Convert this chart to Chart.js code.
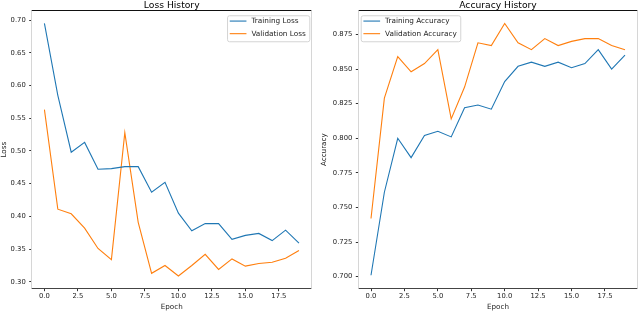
<!DOCTYPE html>
<html>
<head>
<meta charset="utf-8">
<script src="https://cdn.jsdelivr.net/npm/chart.js@4.4.1/dist/chart.umd.min.js"></script>
<style>
  html, body { margin: 0; padding: 0; background: #fff; }
  #wrap { position: relative; width: 640px; height: 312px; overflow: hidden; }
  canvas { position: absolute; top: 0; }
</style>
</head>
<body>
<div id="wrap">
  <canvas id="lossChart" width="320" height="312" style="left:0px"></canvas>
  <canvas id="accChart" width="320" height="312" style="left:320px"></canvas>
</div>
<script>
var epochs = [0, 1, 2, 3, 4, 5, 6, 7, 8, 9, 10, 11, 12, 13, 14, 15, 16, 17, 18, 19];

var trainLoss = [0.695, 0.585, 0.498, 0.513, 0.472, 0.473, 0.476, 0.476, 0.437, 0.452,
                 0.405, 0.378, 0.389, 0.389, 0.365, 0.371, 0.374, 0.363, 0.379, 0.359];
var valLoss   = [0.563, 0.411, 0.404, 0.382, 0.351, 0.334, 0.528, 0.391, 0.313, 0.325,
                 0.309, 0.325, 0.342, 0.319, 0.335, 0.324, 0.328, 0.330, 0.336, 0.348];
var trainAcc  = [0.701, 0.761, 0.800, 0.786, 0.802, 0.805, 0.801, 0.822, 0.824, 0.821,
                 0.841, 0.852, 0.855, 0.852, 0.855, 0.851, 0.854, 0.864, 0.850, 0.860];
var valAcc    = [0.742, 0.829, 0.859, 0.848, 0.854, 0.864, 0.814, 0.837, 0.869, 0.867,
                 0.883, 0.869, 0.864, 0.872, 0.867, 0.870, 0.872, 0.872, 0.867, 0.864];

var epochTicks = [0, 2.5, 5, 7.5, 10, 12.5, 15, 17.5];
var lossTicks  = [0.30, 0.35, 0.40, 0.45, 0.50, 0.55, 0.60, 0.65, 0.70];
var accTicks   = [0.700, 0.725, 0.750, 0.775, 0.800, 0.825, 0.850, 0.875];

var BLUE = '#1f77b4', ORANGE = '#ff7f0e';
var FONT = "'DejaVu Sans', sans-serif";

// spines drawn over the lines, like matplotlib
var framePlugin = {
  id: 'frame',
  afterDatasetsDraw: function(chart) {
    var a = chart.chartArea, c = chart.ctx;
    var t = Math.floor(a.top) + 0.5, b = Math.floor(a.bottom) + 0.5;
    var l = Math.floor(a.left) + 0.5, r = Math.floor(a.right) + 0.5;
    c.save();
    c.lineWidth = 1;
    function seg(x1, y1, x2, y2, col) {
      c.strokeStyle = col; c.beginPath(); c.moveTo(x1, y1); c.lineTo(x2, y2); c.stroke();
    }
    seg(l, t, r, t, '#111');
    seg(l, b, r, b, '#444');
    seg(l, t, l, b, '#d6d6d6');
    seg(r, t, r, b, '#d6d6d6');
    c.restore();
  }
};

// legend box inside the axes
var boxLegendPlugin = {
  id: 'boxLegend',
  afterDraw: function(chart, args, opts) {
    var a = chart.chartArea, c = chart.ctx;
    var sets = chart.data.datasets;
    c.save();
    c.font = '7.3px ' + FONT;
    var tw = 0;
    sets.forEach(function(d) { tw = Math.max(tw, c.measureText(d.label).width); });
    var w = 2.7 + 16.7 + 5 + tw + 3.5, h = 26;
    var x = opts.side === 'right' ? a.right - 2.4 - w : a.left + 2.4;
    var y = a.top + 4.6;
    c.fillStyle = 'rgba(255,255,255,0.85)';
    c.strokeStyle = '#d4d4d4';
    c.lineWidth = 1;
    c.beginPath();
    c.roundRect(x + 0.5, y + 0.5, w, h, 2);
    c.fill(); c.stroke();
    sets.forEach(function(d, i) {
      var ry = y + 5.8 + i * 12.6;
      c.strokeStyle = d.borderColor;
      c.lineWidth = 1.1;
      c.beginPath(); c.moveTo(x + 2.7, ry); c.lineTo(x + 19.4, ry); c.stroke();
      c.fillStyle = '#222';
      c.textBaseline = 'middle';
      c.textAlign = 'left';
      c.fillText(d.label, x + 24.4, ry);
    });
    c.restore();
  }
};

function buildChart(id, o) {
  return new Chart(document.getElementById(id), {
    type: 'line',
    data: {
      datasets: o.series.map(function(s) {
        return {
          label: s.label,
          data: epochs.map(function(e, i) { return { x: e, y: s.values[i] }; }),
          borderColor: s.color, backgroundColor: s.color,
          borderWidth: 1.1, pointRadius: 0, tension: 0, fill: false
        };
      })
    },
    options: {
      responsive: false, animation: false, devicePixelRatio: 1,
      layout: { padding: { left: 0, right: o.padRight, top: 0, bottom: 0 } },
      plugins: {
        legend: { display: false },
        tooltip: { enabled: false },
        title: {
          display: true, text: o.title, fullSize: false, color: '#000',
          font: { family: FONT, size: 9.2, weight: 'normal', lineHeight: 1.16 }, padding: 0
        },
        boxLegend: { side: o.legendSide }
      },
      scales: {
        x: {
          type: 'linear', min: -0.95, max: 19.95,
          afterBuildTicks: function(s) { s.ticks = epochTicks.map(function(v) { return { value: v }; }); },
          afterFit: function(s) { s.height = 23.3; },
          ticks: {
            callback: function(v) { return v.toFixed(1); },
            color: '#222', font: { family: FONT, size: 6.8 }, padding: 1, maxRotation: 0, autoSkip: false
          },
          grid: { drawOnChartArea: false, drawTicks: true, tickLength: 2.5, color: '#333' },
          border: { display: false },
          title: { display: true, text: 'Epoch', color: '#222', font: { family: FONT, size: 7.2 }, padding: { top: 0, bottom: 1 } }
        },
        y: {
          type: 'linear', min: o.yMin, max: o.yMax,
          afterBuildTicks: function(s) { s.ticks = o.yTicks.map(function(v) { return { value: v }; }); },
          afterFit: function(s) { s.width = o.yWidth; },
          ticks: {
            callback: function(v) { return v.toFixed(o.digits); },
            color: '#222', font: { family: FONT, size: 6.8 }, padding: 3.5, autoSkip: false
          },
          grid: { drawOnChartArea: false, drawTicks: true, tickLength: 2.5, color: '#333' },
          border: { display: false },
          title: { display: true, text: o.yLabel, color: '#222', font: { family: FONT, size: 7.2 }, padding: { top: 0, bottom: 0 } }
        }
      }
    },
    plugins: [framePlugin, boxLegendPlugin]
  });
}

buildChart('lossChart', {
  title: 'Loss History', yLabel: 'Loss',
  series: [
    { label: 'Training Loss', values: trainLoss, color: BLUE },
    { label: 'Validation Loss', values: valLoss, color: ORANGE }
  ],
  yMin: 0.2895, yMax: 0.7143, yTicks: lossTicks, digits: 2,
  yWidth: 31.7, padRight: 8.3, legendSide: 'right'
});

buildChart('accChart', {
  title: 'Accuracy History', yLabel: 'Accuracy',
  series: [
    { label: 'Training Accuracy', values: trainAcc, color: BLUE },
    { label: 'Validation Accuracy', values: valAcc, color: ORANGE }
  ],
  yMin: 0.6913, yMax: 0.8922, yTicks: accTicks, digits: 3,
  yWidth: 38.3, padRight: 2.3, legendSide: 'left'
});
</script>
</body>
</html>
